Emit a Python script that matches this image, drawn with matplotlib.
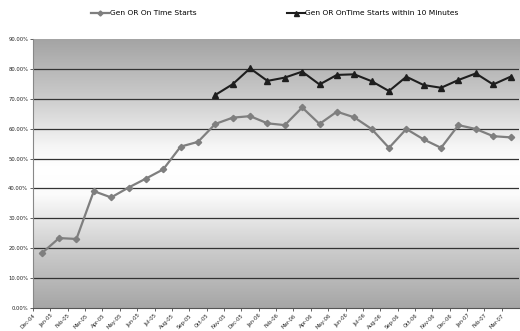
import matplotlib
matplotlib.use("Agg")
import matplotlib.pyplot as plt
import numpy as np
from matplotlib.colors import LinearSegmentedColormap

months = ["Dec-04", "Jan-05", "Feb-05", "Mar-05", "Apr-05", "May-05", "Jun-05", "Jul-05",
          "Aug-05", "Sep-05", "Oct-05", "Nov-05", "Dec-05", "Jan-06", "Feb-06", "Mar-06",
          "Apr-06", "May-06", "Jun-06", "Jul-06", "Aug-06", "Sep-06", "Oct-06", "Nov-06",
          "Dec-06", "Jan-07", "Feb-07", "Mar-07"]
on_time = [18.3, 23.4, 23.1, 39.1, 37.0, 40.3, 43.3, 46.4, 54.0, 55.6, 61.6, 63.7, 64.2,
           61.8, 61.2, 67.1, 61.6, 65.7, 63.8, 59.9, 53.6, 59.9, 56.4, 53.6, 61.2, 59.9,
           57.5, 57.1]
within10_months = months[10:]
within10 = [71.3, 74.9, 80.2, 76.0, 77.1, 79.1, 74.8, 78.0, 78.2, 75.9, 72.6, 77.4, 74.6,
            73.7, 76.3, 78.5, 74.8, 77.4]
yticks = [0, 10, 20, 30, 40, 50, 60, 70, 80, 90]
ytick_labels = [f"{v:.2f}%" for v in yticks]

fig = plt.figure(figsize=(5.2, 3.31), dpi=100)
ax = fig.add_axes([0.0635, 0.0695, 0.935, 0.8125])

x = np.arange(len(months))
xi = {m: i for i, m in enumerate(months)}
x2 = [xi[m] for m in within10_months]

# gradient background
cmap = LinearSegmentedColormap.from_list(
    "bg", [(0.0, "#a6a6a6"), (0.2, "#c9c9c9"), (0.42, "#fbfbfb"), (0.52, "#ffffff"),
           (0.6, "#f6f6f6"), (0.8, "#c8c8c8"), (1.0, "#a4a4a4")])
grad = np.linspace(0, 1, 256).reshape(-1, 1)
ax.imshow(grad, aspect="auto", cmap=cmap, extent=[-0.5, len(months) - 0.5, 0, 90],
          origin="lower", zorder=0)

for v in yticks[1:-1]:
    ax.axhline(v, color="#333333", lw=0.9, zorder=1)

ax.plot(x, on_time, color="#7f7f7f", lw=1.6, marker="D", ms=3.2, zorder=3,
        label="Gen OR On Time Starts")
ax.plot(x2, within10, color="#1e1e1e", lw=1.5, marker="^", ms=4.5, zorder=3,
        label="Gen OR OnTime Starts within 10 Minutes")

ax.set_xlim(-0.5, len(months) - 0.5)
ax.set_ylim(0, 90)
ax.set_yticks(yticks)
ax.set_yticklabels(ytick_labels, fontsize=3.8)
ax.set_xticks(x - 0.5)
ax.set_xticklabels(months, rotation=45, ha="right", fontsize=3.8, rotation_mode="anchor")
ax.tick_params(axis="both", length=2, width=0.5, pad=1.5, colors="#222222")
for s in ["top", "right"]:
    ax.spines[s].set_visible(False)
ax.spines["left"].set_color("#888888")
ax.spines["bottom"].set_color("#555555")
ax.spines["left"].set_linewidth(0.8)
ax.spines["bottom"].set_linewidth(0.8)

leg = fig.legend(loc="upper center", bbox_to_anchor=(0.529, 0.99), ncol=2, frameon=False,
                 fontsize=5.4, columnspacing=12, handlelength=2.4, handletextpad=0.1,
                 markerscale=0.8)

fig.savefig("out.png", dpi=100)
